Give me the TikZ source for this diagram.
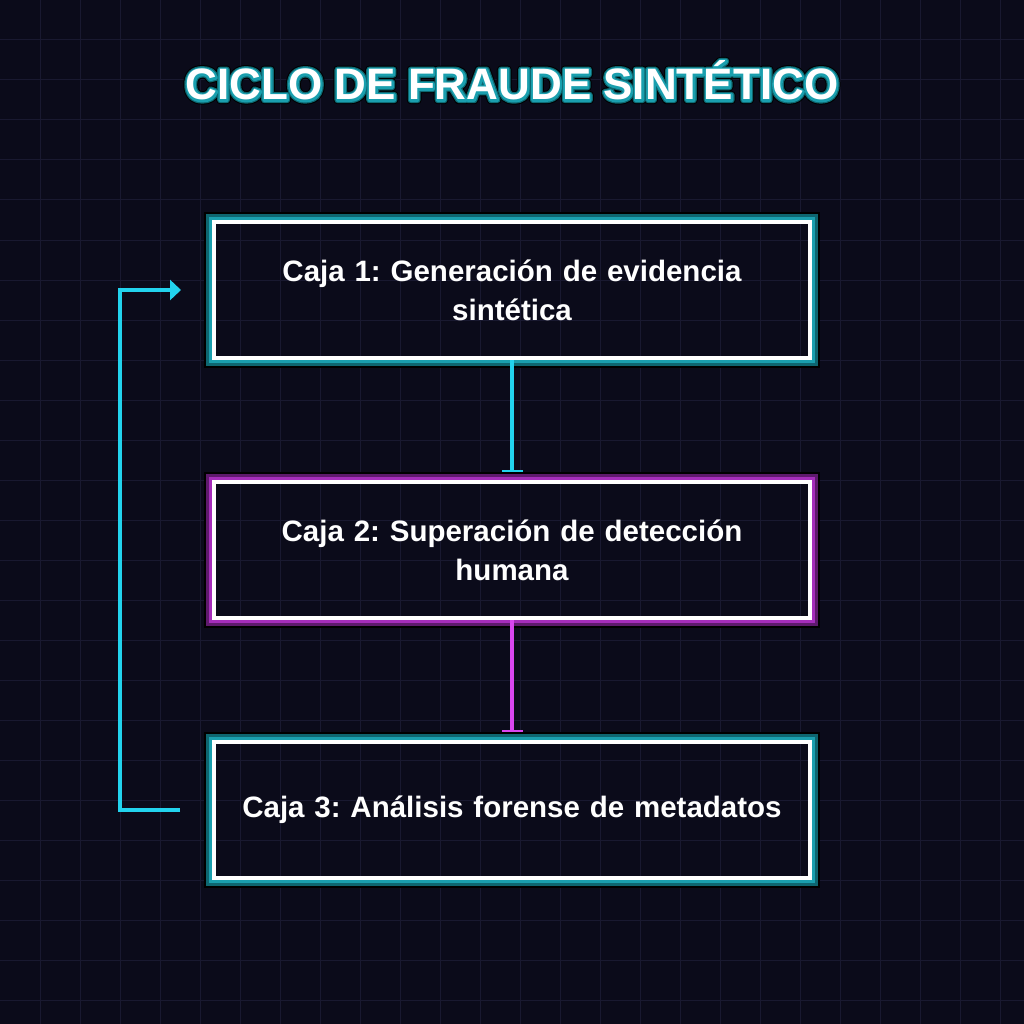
\documentclass[tikz,border=0pt]{standalone}
\usepackage{fontspec}
\setmainfont{Liberation Sans}
\usetikzlibrary{arrows.meta}
\definecolor{bg}{HTML}{0B0B1A}
\definecolor{gridc}{HTML}{191930}
\definecolor{cyanl}{HTML}{22D3EE}
\definecolor{magl}{HTML}{D946EF}
\definecolor{tealA}{HTML}{1A9FAE}
\definecolor{tealB}{HTML}{0E6670}
\definecolor{magA}{HTML}{A52DBA}
\definecolor{magB}{HTML}{5E1A6C}
\newcommand{\glowbox}[3]{%
  \draw[#2, line width=3pt] ([shift={(-3.5,-3.5)}]#1.north west) rectangle ([shift={(3.5,3.5)}]#1.south east);
  \draw[#3, line width=3pt] ([shift={(-6.5,-6.5)}]#1.north west) rectangle ([shift={(6.5,6.5)}]#1.south east);
  \draw[black, line width=2pt] ([shift={(-9,-9)}]#1.north west) rectangle ([shift={(9,9)}]#1.south east);
}
\newcommand{\titletext}{CICLO DE FRAUDE SINTÉTICO}
% stroked (outline-only) text: width, stroke colour (RGB 0-1), text
\newcommand{\strokedtext}[3]{\special{pdf:literal direct 1 Tr #1 w 1 j #2 RG}#3\special{pdf:literal direct 0 Tr}}
\begin{document}
\begin{tikzpicture}[x=1pt,y=-1pt,
  boxnode/.style={draw=white, line width=4pt, minimum width=596pt, minimum height=136pt,
    inner sep=0pt, outer sep=0pt, text width=570pt, align=center, text=white,
    font=\fontsize{29.5}{39}\selectfont\bfseries\frenchspacing},
  titlenode/.style={anchor=base, inner sep=0pt, font=\fontsize{44}{50}\selectfont\bfseries},
  conn/.style={line width=4pt},
  tee/.style={-{Rectangle[width=21pt,length=2.5pt]}}
]
\fill[bg] (0,0) rectangle (1024,1024);
\useasboundingbox (0,0) rectangle (1024,1024);
\foreach \k in {40,80,...,1000} {
  \draw[gridc, line width=1pt] (\k,0) -- (\k,1024);
  \draw[gridc, line width=1pt] (0,\k) -- (1024,\k);
}
% title glow as stroked outlines
\node[titlenode, text=black] (titleglowA) at (512,100) {\strokedtext{8.4}{0 0 0}{\titletext}};
\node[titlenode, text=tealB] (titleglowB) at (512,100) {\strokedtext{6.4}{0.055 0.4 0.44}{\titletext}};
\node[titlenode, text=tealA] (titleglowC) at (512,100) {\strokedtext{4}{0.102 0.624 0.682}{\titletext}};
\node[titlenode, text=white] (title) at (512,100) {\titletext};
% boxes
\node[boxnode] (b1) at (512,290) {Caja 1: Generación de evidencia\\ sintética};
\node[boxnode] (b2) at (512,550) {Caja 2: Superación de detección\\ humana};
\node[boxnode] (b3) at (512,810) {Caja 3: Análisis forense de metadatos};
\glowbox{b1}{tealA}{tealB}
\glowbox{b2}{magA}{magB}
\glowbox{b3}{tealA}{tealB}
% connectors
\draw[conn, cyanl, tee, shorten <=2pt, shorten >=10pt] (b1.south) -- (b2.north);
\draw[conn, magl, tee, shorten <=2pt, shorten >=10pt] (b2.south) -- (b3.north);
\draw[conn, cyanl, -{Triangle[length=11pt,width=20pt]}, shorten <=34pt, shorten >=33pt]
  (b3.west) -- ++(-94,0) |- (b1.west);
\end{tikzpicture}
\end{document}
